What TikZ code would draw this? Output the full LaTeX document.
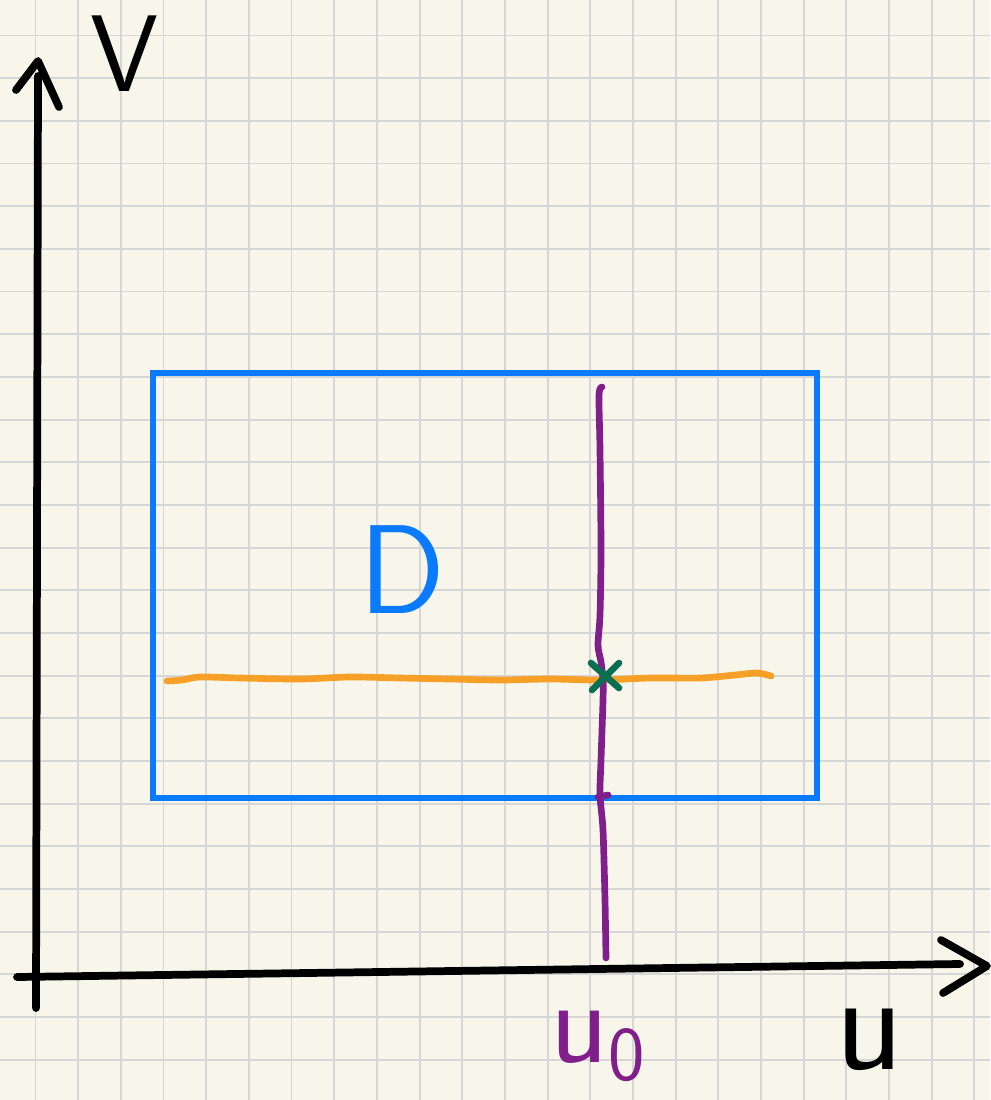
\documentclass[tikz,border=0pt]{standalone}
\usepackage{tikz}
\definecolor{paper}{RGB}{248,246,234}
\definecolor{gridgray}{RGB}{214,214,214}
\definecolor{domblue}{RGB}{10,122,255}
\definecolor{linepurple}{RGB}{128,30,140}
\definecolor{lineorange}{RGB}{246,160,40}
\definecolor{markgreen}{RGB}{10,110,80}
\newcommand{\gridstep}{42.67}
\tikzset{axisline/.style={line width=2.2pt, line cap=round, line join=round},
  pen/.style={line width=1.9pt, line cap=round, line join=round},
  hand/.style={font=\sffamily\fontsize{#1}{#1}\selectfont, inner sep=0pt}}

\begin{document}
\begin{tikzpicture}[x=0.01cm, y=-0.01cm]

\fill[paper] (0,0) rectangle (990,1100);
\useasboundingbox (0,0) rectangle (990,1100);
\foreach \k in {0,...,22} \draw[gridgray, line width=0.55pt] (35.5+\gridstep*\k,0) -- ++(0,1100);
\foreach \k in {0,...,24} \draw[gridgray, line width=0.55pt] (0,35.5+\gridstep*\k) -- ++(990,0);

% axes
\coordinate (vbot) at (36,1008); \coordinate (vtop) at (38,76);
\coordinate (vtip) at (38,61); \coordinate (vl) at (16,90); \coordinate (vr) at (59,107);
\draw[axisline] (vbot) -- (vtop);
\draw[axisline] (vl) -- (vtip) -- (vr);
\coordinate (uleft) at (17,977); \coordinate (uright) at (960,964);
\coordinate (utip) at (987,966); \coordinate (uup) at (941,940); \coordinate (udown) at (943,993);
\draw[axisline] (uleft) -- (uright);
\draw[axisline] (uup) -- (utip) -- (udown);

% domain
\draw[domblue, line width=1.75pt] (153,373) rectangle (817,798);

% lines through the point
\draw[lineorange, pen] plot[smooth] coordinates {(167,681) (182,680) (200,677) (240,678) (300,679)
  (350,677) (400,678) (450,679) (500,680) (550,679) (600,680) (650,678) (700,678) (735,675) (757,673) (771,676)};
\draw[linepurple, pen] plot[smooth] coordinates {(602,387) (599,395) (600,450) (601,550) (600,615)
  (598,645) (601,662) (603,680) (603,700) (601,760) (600,795) (603,830) (605,900) (606,958)};
\draw[linepurple, pen] (598,797) -- (608,795);

% marked point
\coordinate (p0) at (604,677);
\draw[markgreen, pen] (591,663) -- (619,688);
\draw[markgreen, pen] (619,663) -- (592,690);

% labels
\node[hand=31] (vlabel) at (125,54) {V};
\node[hand=36, text=domblue] (dlabel) at (402,570) {D};
\node[hand=40] (ulabel) at (870,1040) {u};
\node[hand=34, text=linepurple] (u0label) at (598,1046) {u\raisebox{-0.35ex}{\fontsize{22}{22}\selectfont 0}};

\end{tikzpicture}
\end{document}
